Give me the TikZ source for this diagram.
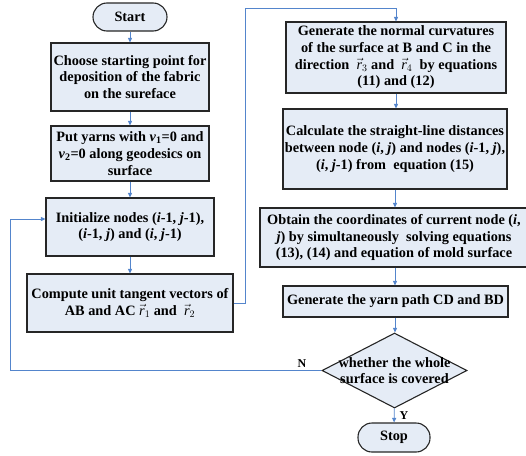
\documentclass[tikz,border=0pt]{standalone}
\usepackage{fontspec}
\setmainfont{Liberation Serif}
\usetikzlibrary{shapes.geometric,arrows.meta}
\newcommand{\rvec}[1]{$\vec{\mbox{\normalfont\itshape r}}_{#1}$}
\newcommand{\ii}{\textit{i}}
\newcommand{\jj}{\textit{j}}
\tikzset{
  proc/.style={draw=black!85, line width=1.1pt, fill=boxfill, align=center, inner sep=0pt,
    font=\fontsize{14.3}{16.7}\selectfont\bfseries},
  term/.style={proc, rounded corners=14pt},
  flow/.style={draw=linkblue, line width=0.8pt, -{Triangle[length=4.5pt,width=4pt]}},
  tag/.style={font=\fontsize{12}{14}\selectfont\bfseries, inner sep=0pt}
}
\begin{document}
\begin{tikzpicture}[x=1pt,y=-1pt]
\definecolor{boxfill}{rgb}{0.90,0.925,0.965}
\definecolor{linkblue}{rgb}{0.33,0.52,0.80}
\useasboundingbox (0,0) rectangle (526,455);
\node[term, minimum width=74pt, minimum height=28pt] (start) at (130,17) {Start};
\node[proc, minimum width=158pt, minimum height=68pt] (choose) at (130,77)
  {Choose starting point for\\deposition of the fabric\\on the sureface};
\node[proc, minimum width=158pt, minimum height=55pt] (yarns) at (130,153.5)
  {Put yarns with \textit{v}\textsubscript{1}=0 and\\\textit{v}\textsubscript{2}=0 along geodesics on\\surface};
\node[proc, minimum width=168pt, minimum height=58pt] (init) at (130,227)
  {Initialize nodes (\ii-1, \jj-1),\\(\ii-1, \jj) and (\ii, \jj-1)};
\node[proc, minimum width=206pt, minimum height=58pt] (tangent) at (130,303)
  {Compute unit tangent vectors of\\AB and AC \rvec{1} and \ \rvec{2}};
\node[proc, minimum width=220pt, minimum height=71pt] (normal) at (396,57.5)
  {Generate the normal curvatures\\of the surface at B and C in the\\direction \ \rvec{3} and \ \rvec{4} \ by equations\\(11) and (12)};
\node[proc, minimum width=224pt, minimum height=80pt] (dist) at (395,149)
  {Calculate the straight-line distances\\between node (\ii, \jj) and nodes (\ii-1, \jj),\\(\ii, \jj-1) from \ equation (15)};
\node[proc, minimum width=268pt, minimum height=59pt] (coord) at (394,237.5)
  {Obtain the coordinates of current node (\ii,\\\jj) by simultaneously \ solving equations\\(13), (14) and equation of mold surface};
\node[proc, minimum width=225pt, minimum height=31pt] (gen) at (395.5,301.5)
  {Generate the yarn path CD and BD};
\node[diamond, draw=black!85, line width=1.1pt, fill=boxfill, minimum width=145pt, minimum height=75pt, inner sep=0pt] (check) at (394.5,370.5) {};
\node[align=center, font=\fontsize{14.3}{16.7}\selectfont\bfseries] (checktext) at (check.center) {whether the whole\\surface is covered};
\node[term, minimum width=72pt, minimum height=29pt] (stop) at (394,437.5) {Stop};
\coordinate[] (A1) at (245,8);
\coordinate[] (A2) at (10,370.5);
\draw[flow] (start) -- (choose);
\draw[flow] (choose) -- (yarns);
\draw[flow] (yarns) -- (init);
\draw[flow] (init) -- (tangent);
\draw[flow] (tangent.east) -| (A1) -| (normal.north);
\draw[flow] (normal.south) -- (normal.south |- dist.north);
\draw[flow] (dist.south) -- (dist.south |- coord.north);
\draw[flow] (dist.south |- coord.south) -- (dist.south |- gen.north);
\draw[flow] (dist.south |- gen.south) -- (dist.south |- check.north);
\draw[flow] (check) -- (stop);
\draw[flow] (check.west) -- (A2) |- ([yshift=8pt]init.west);
\node[tag] (no) at (302,364) {N};
\node[tag] (yes) at (404,416) {Y};
\end{tikzpicture}
\end{document}
